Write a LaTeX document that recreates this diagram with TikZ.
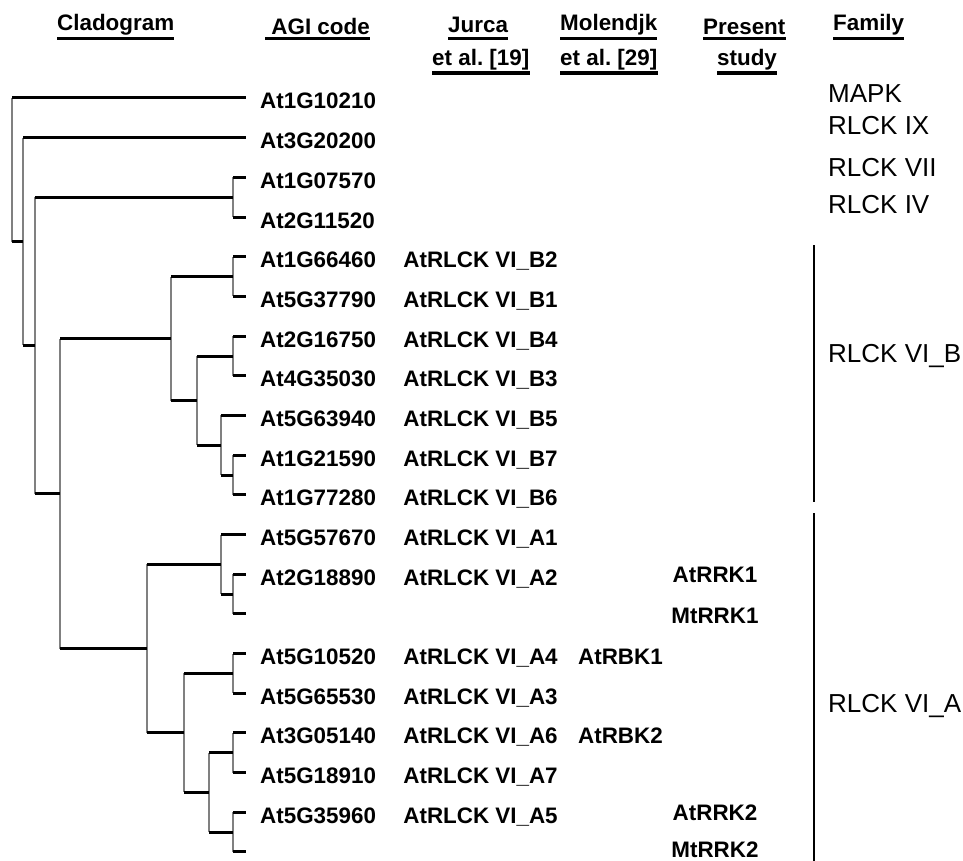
\documentclass[tikz,border=0pt]{standalone}
\usepackage{fontspec}
\setmainfont{Liberation Sans}
\usetikzlibrary{positioning}
\frenchspacing

\tikzset{
  hbr/.style={line width=3pt},
  vbr/.style={line width=1.9pt,black!50},
  lab/.style={font=\fontsize{22.4}{26}\selectfont\bfseries,inner sep=0pt,text height=16pt,text depth=0pt},
  code/.style={lab,yshift=-3pt},
  hdr/.style={font=\fontsize{22.4}{26}\selectfont\bfseries,inner sep=0pt,anchor=base west},
  fam/.style={font=\fontsize{26}{30}\selectfont,inner sep=0pt,anchor=base west},
  uline/.style={line width=3.2pt},
  famline/.style={line width=1.7pt}
}

\begin{document}
\begin{tikzpicture}[x=1pt,y=-1pt]
\useasboundingbox (0,0) rectangle (963,861);

% headers
\coordinate (u1) at (0,38.5);
\coordinate (u2) at (0,73);
\node[hdr] (hclad) at (57,31) {Cladogram};
\node[hdr] (hagi) at (265,35) {\ AGI code};
\node[hdr] (hjur) at (448,33) {Jurca};
\node[hdr] (hjur2) at (432,66) {et al. [19]};
\node[hdr] (hmol) at (560,31) {Molendjk};
\node[hdr] (hmol2) at (560,66) {et al. [29]};
\node[hdr] (hpre) at (703,35) {Present};
\node[hdr] (hpre2) at (717,66) {study};
\node[hdr] (hfam) at (833,31) {Family};
\draw[uline] (hclad.west |- u1) -- (hclad.east |- u1);
\draw[uline] (hagi.west |- u1) -- (hagi.east |- u1);
\draw[uline] (hjur.west |- u1) -- (hjur.east |- u1);
\draw[uline] (hjur2.west |- u2) -- (hjur2.east |- u2);
\draw[uline] (hmol.west |- u1) -- (hmol.east |- u1);
\draw[uline] (hmol2.west |- u2) -- (hmol2.east |- u2);
\draw[uline] (hpre.west |- u1) -- (hpre.east |- u1);
\draw[uline] (hpre2.west |- u2) -- (hpre2.east |- u2);
\draw[uline] (hfam.west |- u1) -- (hfam.east |- u1);

% leaf tips
\coordinate (l1) at (246,98);    \coordinate (l2) at (246,137.7);
\coordinate (l3) at (246,177.4); \coordinate (l4) at (246,217);
\coordinate (l5) at (246,256.7); \coordinate (l6) at (246,296.4);
\coordinate (l7) at (246,336.1); \coordinate (l8) at (246,375.8);
\coordinate (l9) at (246,415.4); \coordinate (l10) at (246,455.1);
\coordinate (l11) at (246,494.8); \coordinate (l12) at (246,534.5);
\coordinate (l13) at (246,574.2); \coordinate (l14) at (246,613.8);
\coordinate (l15) at (246,653.5); \coordinate (l16) at (246,693.2);
\coordinate (l17) at (246,732.9); \coordinate (l18) at (246,772.6);
\coordinate (l19) at (246,812.2); \coordinate (l20) at (246,851.9);

% inner nodes
\coordinate (c74) at (233,197.2);
\coordinate (b12) at (233,276.6);
\coordinate (b34) at (233,356);
\coordinate (b67) at (233,475);
\coordinate (b3) at (221,445.2);
\coordinate (b2) at (197,400.6);
\coordinate (nB) at (171,338.6);
\coordinate (a12) at (233,594);
\coordinate (a1) at (221,564.2);
\coordinate (a43) at (233,673.4);
\coordinate (a67) at (233,752.8);
\coordinate (a5) at (233,832.1);
\coordinate (a3) at (209,792.4);
\coordinate (a2) at (184,732.9);
\coordinate (nA) at (147,648.6);
\coordinate (n3) at (60,493.6);
\coordinate (n2) at (35,345.4);
\coordinate (n1) at (23,241.5);
\coordinate (root) at (12,169.8);

% cladogram
\draw[vbr] (root |- l1) -- (root |- n1);
\draw[vbr] (n1 |- l2) -- (n1 |- n2);
\draw[vbr] (n2 |- c74) -- (n2 |- n3);
\draw[vbr] (c74 |- l3) -- (c74 |- l4);
\draw[vbr] (n3 |- nB) -- (n3 |- nA);
\draw[vbr] (nB |- b12) -- (nB |- b2);
\draw[vbr] (b12 |- l5) -- (b12 |- l6);
\draw[vbr] (b2 |- b34) -- (b2 |- b3);
\draw[vbr] (b34 |- l7) -- (b34 |- l8);
\draw[vbr] (b3 |- l9) -- (b3 |- b67);
\draw[vbr] (b67 |- l10) -- (b67 |- l11);
\draw[vbr] (nA |- a1) -- (nA |- a2);
\draw[vbr] (a1 |- l12) -- (a1 |- a12);
\draw[vbr] (a12 |- l13) -- (a12 |- l14);
\draw[vbr] (a2 |- a43) -- (a2 |- a3);
\draw[vbr] (a43 |- l15) -- (a43 |- l16);
\draw[vbr] (a3 |- a67) -- (a3 |- a5);
\draw[vbr] (a67 |- l17) -- (a67 |- l18);
\draw[vbr] (a5 |- l19) -- (a5 |- l20);

\draw[hbr] (l1 -| root) -- (l1) (n1 -| root) -- (n1);
\draw[hbr] (l2 -| n1) -- (l2) (n2 -| n1) -- (n2);
\draw[hbr] (c74 -| n2) -- (c74) (n3 -| n2) -- (n3);
\draw[hbr] (l3 -| c74) -- (l3) (l4 -| c74) -- (l4);
\draw[hbr] (nB -| n3) -- (nB) (nA -| n3) -- (nA);
\draw[hbr] (b12 -| nB) -- (b12) (b2 -| nB) -- (b2);
\draw[hbr] (l5 -| b12) -- (l5) (l6 -| b12) -- (l6);
\draw[hbr] (b34 -| b2) -- (b34) (b3 -| b2) -- (b3);
\draw[hbr] (l7 -| b34) -- (l7) (l8 -| b34) -- (l8);
\draw[hbr] (l9 -| b3) -- (l9) (b67 -| b3) -- (b67);
\draw[hbr] (l10 -| b67) -- (l10) (l11 -| b67) -- (l11);
\draw[hbr] (a1 -| nA) -- (a1) (a2 -| nA) -- (a2);
\draw[hbr] (l12 -| a1) -- (l12) (a12 -| a1) -- (a12);
\draw[hbr] (l13 -| a12) -- (l13) (l14 -| a12) -- (l14);
\draw[hbr] (a43 -| a2) -- (a43) (a3 -| a2) -- (a3);
\draw[hbr] (l15 -| a43) -- (l15) (l16 -| a43) -- (l16);
\draw[hbr] (a67 -| a3) -- (a67) (a5 -| a3) -- (a5);
\draw[hbr] (l17 -| a67) -- (l17) (l18 -| a67) -- (l18);
\draw[hbr] (l19 -| a5) -- (l19) (l20 -| a5) -- (l20);

% AGI codes
\node[code,right=14pt of l1] (g1) {At1G10210};
\node[code,right=14pt of l2] (g2) {At3G20200};
\node[code,right=14pt of l3] (g3) {At1G07570};
\node[code,right=14pt of l4] (g4) {At2G11520};
\node[code,right=14pt of l5] (g5) {At1G66460};
\node[code,right=14pt of l6] (g6) {At5G37790};
\node[code,right=14pt of l7] (g7) {At2G16750};
\node[code,right=14pt of l8] (g8) {At4G35030};
\node[code,right=14pt of l9] (g9) {At5G63940};
\node[code,right=14pt of l10] (g10) {At1G21590};
\node[code,right=14pt of l11] (g11) {At1G77280};
\node[code,right=14pt of l12] (g12) {At5G57670};
\node[code,right=14pt of l13] (g13) {At2G18890};
\node[code,right=14pt of l15] (g15) {At5G10520};
\node[code,right=14pt of l16] (g16) {At5G65530};
\node[code,right=14pt of l17] (g17) {At3G05140};
\node[code,right=14pt of l18] (g18) {At5G18910};
\node[code,right=14pt of l19] (g19) {At5G35960};

% Jurca et al.
\node[lab,right=27pt of g5] (j5) {AtRLCK VI\_B2};
\node[lab,right=27pt of g6] (j6) {AtRLCK VI\_B1};
\node[lab,right=27pt of g7] (j7) {AtRLCK VI\_B4};
\node[lab,right=27pt of g8] (j8) {AtRLCK VI\_B3};
\node[lab,right=27pt of g9] (j9) {AtRLCK VI\_B5};
\node[lab,right=27pt of g10] (j10) {AtRLCK VI\_B7};
\node[lab,right=27pt of g11] (j11) {AtRLCK VI\_B6};
\node[lab,right=27pt of g12] (j12) {AtRLCK VI\_A1};
\node[lab,right=27pt of g13] (j13) {AtRLCK VI\_A2};
\node[lab,right=27pt of g15] (j15) {AtRLCK VI\_A4};
\node[lab,right=27pt of g16] (j16) {AtRLCK VI\_A3};
\node[lab,right=27pt of g17] (j17) {AtRLCK VI\_A6};
\node[lab,right=27pt of g18] (j18) {AtRLCK VI\_A7};
\node[lab,right=27pt of g19] (j19) {AtRLCK VI\_A5};

% Molendjk et al.
\node[lab,right=20pt of j15] (m15) {AtRBK1};
\node[lab,right=20pt of j17] (m17) {AtRBK2};

% present study
\coordinate (pres) at (715,0);
\node[lab] (p13) at (l13 -| pres) {AtRRK1};
\node[lab,yshift=-2pt] (p14) at (l14 -| pres) {MtRRK1};
\node[lab] (p19) at (l19 -| pres) {AtRRK2};
\node[lab,yshift=2pt] (p20) at (l20 -| pres) {MtRRK2};

% families
\node[fam] (fmapk) at (828,103) {MAPK};
\node[fam] (fix) at (828,135) {RLCK IX};
\node[fam] (fvii) at (828,177) {RLCK VII};
\node[fam] (fiv) at (828,213) {RLCK IV};
\node[fam] (fvib) at (828,362) {RLCK VI\_B};
\node[fam] (fvia) at (828,712) {RLCK VI\_A};
\coordinate (bt) at (814,245); \coordinate (bb) at (814,502);
\coordinate (at) at (814,513); \coordinate (ab) at (814,861);
\draw[famline] (bt) -- (bb);
\draw[famline] (at) -- (ab);
\end{tikzpicture}
\end{document}
